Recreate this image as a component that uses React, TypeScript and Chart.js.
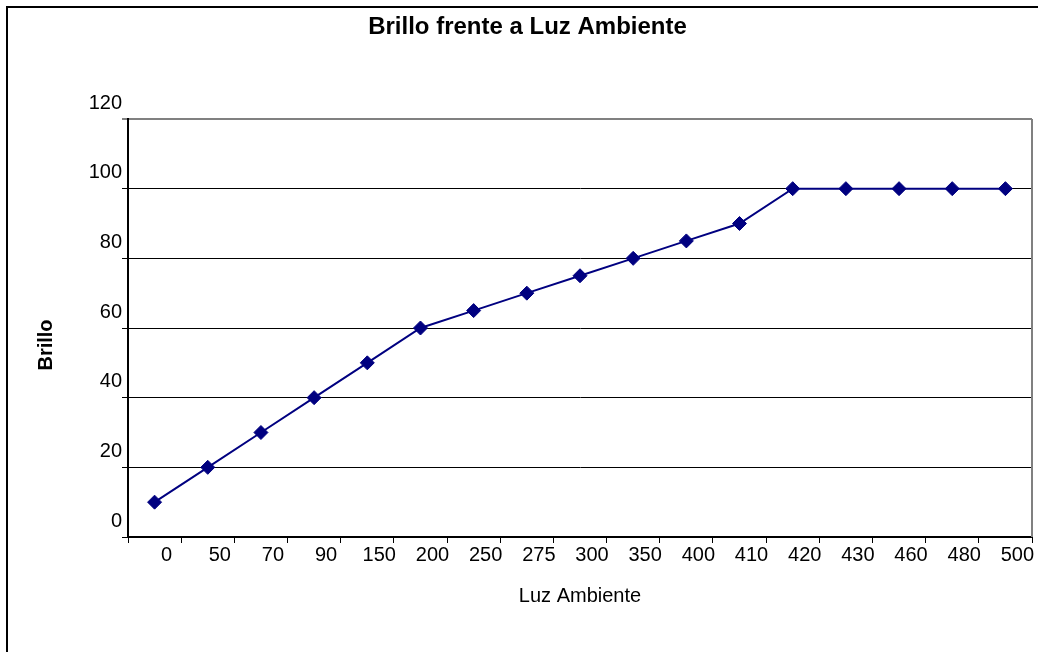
import React, { useEffect, useRef } from "react";
import { Chart, registerables } from "chart.js";

Chart.register(...registerables);

const categories: string[] = ["0", "50", "70", "90", "150", "200", "250", "275", "300", "350", "400", "410", "420", "430", "460", "480", "500"];
const brillo: number[] = [10, 20, 30, 40, 50, 60, 65, 70, 75, 80, 85, 90, 100, 100, 100, 100, 100];
const yMin = 0;
const yMax = 120;
const yStep = 20;
const yTitle = "Brillo";

const FONT = "'Liberation Sans', Arial, sans-serif";

const plotBorder = {
  id: "plotBorder",
  beforeDatasetsDraw(chart: any) {
    const { ctx, chartArea } = chart;
    ctx.save();
    ctx.strokeStyle = "#808080";
    ctx.lineWidth = 2;
    ctx.beginPath();
    ctx.moveTo(chartArea.right, chartArea.top);
    ctx.lineTo(chartArea.right, chartArea.bottom);
    ctx.stroke();
    ctx.restore();
  },
};

// Y-axis title, placed slightly below the vertical centre of the plot (as in the reference)
const yAxisTitle = {
  id: "yAxisTitle",
  afterDraw(chart: any) {
    const { ctx, chartArea } = chart;
    ctx.save();
    ctx.translate(38, (chartArea.top + chartArea.bottom) / 2 + 17);
    ctx.rotate(-Math.PI / 2);
    ctx.font = `bold 20px ${FONT}`;
    ctx.fillStyle = "#000";
    ctx.textAlign = "center";
    ctx.textBaseline = "middle";
    ctx.fillText(yTitle, 0, 0);
    ctx.restore();
  },
};

export default function App() {
  const ref = useRef<HTMLCanvasElement | null>(null);
  useEffect(() => {
    if (!ref.current) return;
    document.body.style.overflow = "hidden";
    const chart = new Chart(ref.current, {
      type: "line",
      data: {
        labels: categories,
        datasets: [
          {
            label: "Brillo",
            data: brillo,
            borderColor: "#000080",
            backgroundColor: "#000080",
            borderWidth: 2,
            pointStyle: "rectRot",
            pointRadius: 7,
            pointBorderWidth: 1,
            pointBackgroundColor: "#000080",
            pointBorderColor: "#000080",
            tension: 0,
          },
        ],
      },
      options: {
        responsive: false,
        animation: false,
        devicePixelRatio: 1,
        layout: { autoPadding: false, padding: { left: 15, right: 6, top: 0, bottom: 0 } },
        plugins: {
          legend: { display: false },
          tooltip: { enabled: false },
          title: {
            display: true,
            text: "Brillo frente a Luz Ambiente",
            color: "#000",
            font: { family: FONT, size: 24, weight: "bold" },
            padding: { top: 4.8, bottom: 77.4 },
          },
        },
        scales: {
          x: {
            type: "category",
            offset: true,
            afterFit(scale: any) {
              scale.height = 115;
            },
            grid: {
              offset: true,
              drawOnChartArea: false,
              drawTicks: true,
              tickLength: 6,
              tickColor: "#000",
              tickWidth: 1,
            },
            border: { display: true, color: "#000", width: 2 },
            ticks: {
              color: "#000",
              font: { family: FONT, size: 20 },
              padding: 0,
              labelOffset: 12,
              maxRotation: 0,
              autoSkip: false,
            },
            title: {
              display: true,
              text: "Luz Ambiente",
              color: "#000",
              font: { family: FONT, size: 20 },
              padding: { top: 0, bottom: 44 },
            },
          },
          y: {
            min: yMin,
            max: yMax,
            afterFit(scale: any) {
              scale.width = 105;
            },
            grid: {
              color: (ctx: any) => (ctx.tick && ctx.tick.value === yMax ? "#808080" : "#000"),
              lineWidth: (ctx: any) => (ctx.tick && ctx.tick.value === yMax ? 2 : 1),
              drawTicks: true,
              tickLength: 6,
              tickColor: "#000",
              tickWidth: 1,
            },
            border: { display: true, color: "#000", width: 2 },
            ticks: {
              stepSize: yStep,
              color: "#000",
              font: { family: FONT, size: 20 },
              padding: 0,
              labelOffset: -16,
            },
            title: { display: false },
          },
        },
      },
      plugins: [plotBorder, yAxisTitle],
    } as any);
    return () => chart.destroy();
  }, []);

  return (
    <div
      style={{
        position: "absolute",
        left: 6,
        top: 6,
        width: 1032,
        height: 646,
        boxSizing: "border-box",
        borderTop: "2px solid #000",
        borderLeft: "2px solid #000",
        overflow: "hidden",
        background: "#fff",
      }}
    >
      <canvas ref={ref} width={1030} height={644} style={{ display: "block" }} />
    </div>
  );
}
